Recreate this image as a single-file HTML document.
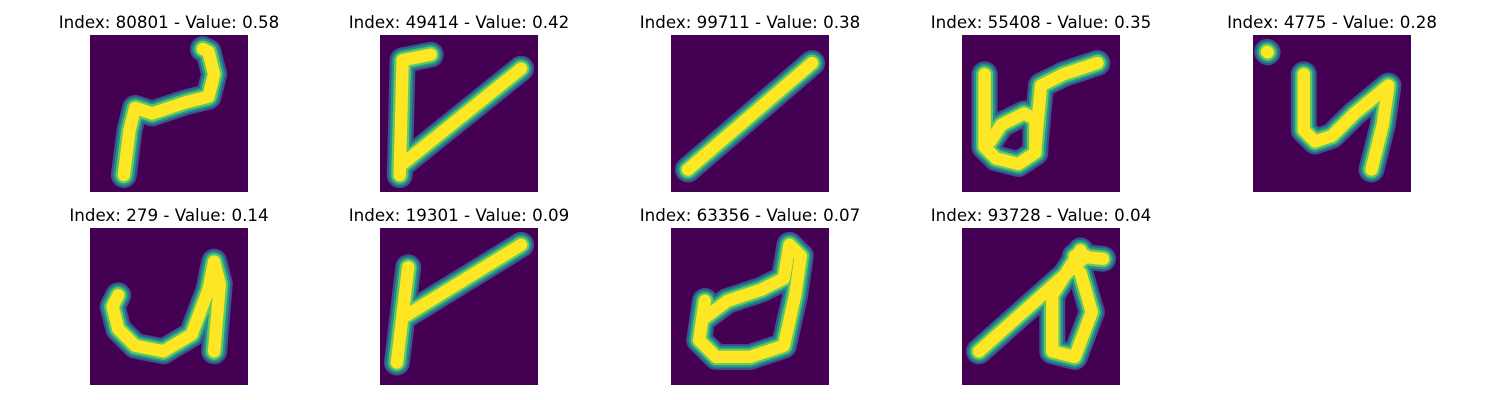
<!DOCTYPE html>
<html><head><meta charset="utf-8"><style>
body{margin:0;background:#fff;width:1500px;height:400px;overflow:hidden;position:relative;font-family:"DejaVu Sans","Liberation Sans",sans-serif}
.t{position:absolute;font-size:16.7px;color:#000;text-align:center;width:300px;white-space:nowrap}
svg.im{position:absolute;width:158px;height:157px}
</style></head><body>
<script>
const indices=[80801,49414,99711,55408,4775,279,19301,63356,93728];
const values=[0.58,0.42,0.38,0.35,0.28,0.14,0.09,0.07,0.04];
const strokes=[
 [[[6,25],[7,17],[8,13],[11,14],[17,12],[21,11],[22,7],[21,3],[20,2.5]]],
 [[[4,5],[3.5,25]],[[4,4.5],[9,3.5]],[[4,23],[25,6]]],
 [[[3,24],[25,5]]],
 [[[4,7],[4,20],[6,22],[10,23],[13,21],[13,15],[11,14],[7,16],[5,19]],[[13,20],[14,9],[18,7],[24,5]]],
 [[[2.5,3],[2.6,3.1]],[[9,7],[9,17],[11,19],[14,18],[18,14],[24,9],[23,16],[21,24]]],
 [[[5,12],[4,14],[5,18],[8,21],[13,22],[18,19],[21,11],[22,6],[23,10],[22,22]]],
 [[[5,7],[3,24]],[[4,16],[25,3]]],
 [[[6,13],[5,20],[8,23],[14,23],[20,21],[22,12],[23,5],[21,3],[20,9],[16,11],[10,13],[6,16]]],
 [[[3,22],[22,5]],[[21,4],[16,12],[16,22],[20,23],[23,15],[21,8]],[[20,5],[25,5.5]]]
];
const colX=[90,380,671,962,1253], rowY=[35,228];
const NS='http://www.w3.org/2000/svg';
indices.forEach((idx,i)=>{
 const c=i%5,r=Math.floor(i/5),x=colX[c],y=rowY[r];
 const t=document.createElement('div');t.className='t';
 
 
 t.style.left=(x+79-150)+'px';t.style.top=(y-23)+'px';
 t.textContent='Index: '+idx+' - Value: '+values[i].toFixed(2);
 document.body.appendChild(t);
 const s=document.createElementNS(NS,'svg');s.setAttribute('class','im');
 
 
 s.setAttribute('viewBox','0 0 28 28');s.setAttribute('preserveAspectRatio','none');
 s.style.left=x+'px';s.style.top=y+'px';
 const bg=document.createElementNS(NS,'rect');bg.setAttribute('width',28);bg.setAttribute('height',28);bg.setAttribute('fill','#440154');
 s.appendChild(bg);
 [['#3b528b',4.6],['#21918c',3.8],['#5ec962',3.0],['#fde725',2.2]].forEach(([col,w])=>{
  strokes[i].forEach(st=>{
   const p=document.createElementNS(NS,'polyline');
   
   
   p.setAttribute('points',st.map(q=>q.join(',')).join(' '));
   p.setAttribute('fill','none');p.setAttribute('stroke',col);p.setAttribute('stroke-width',w);
   p.setAttribute('stroke-linecap','round');p.setAttribute('stroke-linejoin','round');
   s.appendChild(p);
  });
 });
 document.body.appendChild(s);
});
</script>
</body></html>
